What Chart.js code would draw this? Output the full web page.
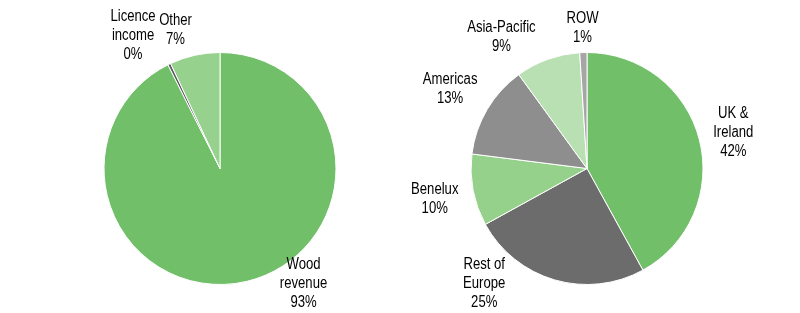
<!DOCTYPE html>
<html>
<head>
<meta charset="utf-8">
<script src="https://cdn.jsdelivr.net/npm/chart.js@4"></script>
<style>
  html, body { margin: 0; padding: 0; background: #fff; }
  .wrap { width: 800px; height: 313px; display: flex; }
  .box { width: 400px; height: 313px; position: relative; }
</style>
</head>
<body>
<div class="wrap">
  <div class="box"><canvas id="revenueChart"></canvas></div>
  <div class="box"><canvas id="regionChart"></canvas></div>
</div>
<script>
// --- DATA ---
const revenueLabels = [["Wood", "revenue"], ["Licence", "income"], ["Other"]];
const revenueValues = [92.6, 0.4, 7.0];
const revenueColors = ['#72bf6a', '#5a5a5a', '#97d18e'];

const regionLabels = [["UK &", "Ireland"], ["Rest of", "Europe"], ["Benelux"], ["Americas"], ["Asia-Pacific"], ["ROW"]];
const regionValues = [42, 25, 10, 13, 9, 1];
const regionColors = ['#72bf6a', '#6c6c6c', '#95d18b', '#8e8e8e', '#b9e0b2', '#a6a6a6'];

// label placement: angle nudge (deg) and distance beyond the rim (px)
const revenueLabelLayout = [[-23, 25], [-7, 44], [-5, 31]];
const regionLabelLayout = [[0, 35], [26, 37], [0, 39], [0, 43], [-13, 42], [0, 26]];

// --- LABEL PLUGIN ---
// narrow sans: regular face squeezed horizontally
const pieLabels = {
    id: 'pieLabels',
    afterDatasetsDraw(chart, args, opts) {
        const ctx = chart.ctx;
        const meta = chart.getDatasetMeta(0);
        const values = chart.data.datasets[0].data;
        const total = values.reduce((a, b) => a + b, 0);
        const lh = 19;
        ctx.save();
        ctx.font = '16px "Liberation Sans", Arial, sans-serif';
        ctx.fillStyle = '#000';
        ctx.textAlign = 'center';
        ctx.textBaseline = 'alphabetic';
        meta.data.forEach((arc, i) => {
            const [nudge, pad] = opts.layout[i];
            const mid = (arc.startAngle + arc.endAngle) / 2 + nudge * Math.PI / 180;
            const r = arc.outerRadius + pad;
            const x = arc.x + Math.cos(mid) * r;
            const y = arc.y + Math.sin(mid) * r;
            const lines = chart.data.labels[i].concat([Math.round(values[i] / total * 100) + '%']);
            lines.forEach((t, k) => {
                ctx.save();
                ctx.translate(x, y + 5.8 + (k - (lines.length - 1) / 2) * lh);
                ctx.scale(0.82, 1);
                ctx.fillText(t, 0, 0);
                ctx.restore();
            });
        });
        ctx.restore();
    }
};

function makePie(id, labels, values, colors, layout, padding) {
    return new Chart(document.getElementById(id), {
        type: 'pie',
        data: { labels: labels, datasets: [{ data: values, backgroundColor: colors, borderColor: '#ffffff', borderWidth: 1 }] },
        options: {
            responsive: true, maintainAspectRatio: false, animation: false,
            layout: { padding: padding },
            plugins: { legend: { display: false }, tooltip: { enabled: false }, pieLabels: { layout: layout } }
        },
        plugins: [pieLabels]
    });
}

makePie('revenueChart', revenueLabels, revenueValues, revenueColors, revenueLabelLayout, { left: 40, right: 0, top: 52, bottom: 28 });
makePie('regionChart', regionLabels, regionValues, regionColors, regionLabelLayout, { left: 0, right: 26, top: 52, bottom: 28 });
</script>
</body>
</html>
